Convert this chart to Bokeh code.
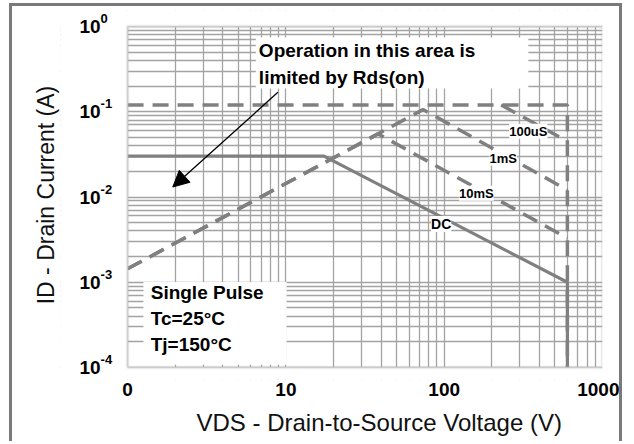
from bokeh.plotting import figure
from bokeh.models import (FixedTicker, CustomJSTickFormatter, BoxAnnotation, Label,
                          Arrow, NormalHead, Title)
from bokeh.embed import file_html
from bokeh.resources import INLINE

# ---- data ----
limit_v = [1, 600, 600]
limit_a = [0.12, 0.12, 1e-4]

us100_v = [229, 600]
us100_a = [0.12, 0.045]

ms1_v = [1, 73.5, 600]
ms1_a = [0.00144, 0.106, 0.0121]

ms10_v = [1, 38.2, 600]
ms10_a = [0.00144, 0.055, 0.0033]

dc_v = [1, 17.4, 600, 600]
dc_a = [0.0302, 0.0302, 0.001, 1e-4]

xtick_values = [1, 10, 100, 1000]
xtick_labels = ["0", "10", "100", "1000"]
ytick_values = [1e-4, 1e-3, 1e-2, 1e-1, 1]
ytick_bases = ["10", "10", "10", "10", "10"]
ytick_exps = ["-4", "-3", "-2", "-1", "0"]

curve_labels = ["100uS", "1mS", "10mS", "DC"]
curve_label_v = [340, 236, 159.5, 95.7]
curve_label_a = [0.059, 0.0286, 0.0111, 0.00483]

FONT = "Liberation Sans"
GRAY = "#808080"
GRID = "#a3a3a3"
EDGE = "#bdbdbd"

# visible chart area is 1..1000 V and 1e-4..1 A; the frame is a little larger so
# that the y tick labels (drawn as labels) are not clipped; the margin is blanked.
p = figure(width=613, height=438, x_axis_type="log", y_axis_type="log",
           x_range=(0.377, 1000), y_range=(7.24e-5, 1.54),
           output_backend="svg", toolbar_location=None,
           min_border_left=48, min_border_right=23, min_border_top=4, min_border_bottom=64,
           styles={"margin-left": "9px", "margin-top": "3px",
                   "border-left": "3px solid #7a7a7a", "border-top": "3px solid #7a7a7a",
                   "border-right": "3px solid #7a7a7a"})
p.background_fill_color = "white"
p.border_fill_color = "white"
p.outline_line_color = None

# ticks / grid
minor_x = [m * 10 ** e for e in range(0, 3) for m in range(2, 10)]
minor_y = [m * 10.0 ** e for e in range(-4, 0) for m in range(2, 10)]
xt = FixedTicker(ticks=xtick_values, minor_ticks=minor_x)
yt = FixedTicker(ticks=ytick_values, minor_ticks=minor_y)
p.xaxis.ticker = xt
p.yaxis.ticker = yt
p.xgrid.ticker = xt
p.ygrid.ticker = yt

fmt_code = """
for (let i = 0; i < vals.length; i++) {
  if (Math.abs(Math.log10(vals[i]) - Math.log10(tick)) < 1e-6) return labs[i];
}
return "";
"""
p.xaxis.formatter = CustomJSTickFormatter(args=dict(vals=xtick_values, labs=xtick_labels), code=fmt_code)
p.yaxis.formatter = CustomJSTickFormatter(code='return "";')

for g in (p.xgrid, p.ygrid):
    g.grid_line_color = GRID
    g.grid_line_width = 1.3
    g.minor_grid_line_color = GRID
    g.minor_grid_line_width = 1.3

for ax in (p.xaxis, p.yaxis):
    ax.axis_line_color = None
    ax.major_tick_line_color = None
    ax.minor_tick_line_color = None
    ax.major_tick_out = 0
    ax.major_tick_in = 0
    ax.minor_tick_out = 0
    ax.minor_tick_in = 0
    ax.major_label_text_font = FONT
    ax.major_label_text_font_style = "bold"
    ax.major_label_text_font_size = "19px"
    ax.major_label_text_color = "black"

p.xaxis.major_label_standoff = 3
p.yaxis.major_label_standoff = 0

p.add_layout(Title(text="VDS - Drain-to-Source Voltage (V)", align="left", offset=136,
                   text_font=FONT, text_font_style="normal", text_font_size="24px",
                   text_color="#111111", standoff=17), "below")
p.add_layout(Title(text="ID - Drain Current (A)", align="center",
                   text_font=FONT, text_font_style="normal", text_font_size="23px",
                   text_color="#111111", standoff=4), "left")

# blank the margin outside 1..1000 V / 1e-4..1 A and draw the chart border
p.add_layout(BoxAnnotation(right=1, fill_color="white", fill_alpha=1.0, line_color=None))
p.add_layout(BoxAnnotation(bottom=1, fill_color="white", fill_alpha=1.0, line_color=None))
p.add_layout(BoxAnnotation(top=1e-4, fill_color="white", fill_alpha=1.0, line_color=None))
p.add_layout(BoxAnnotation(left=1, right=1000, bottom=1e-4, top=1, fill_alpha=0,
                           line_color=EDGE, line_width=3.5))

# y tick labels: base "10" and raised exponent
for tv, b, e in zip(ytick_values, ytick_bases, ytick_exps):
    p.add_layout(Label(x=1, y=tv, x_offset=-27, text=b, text_align="right", text_baseline="middle",
                       text_font=FONT, text_font_style="bold", text_font_size="19px",
                       text_color="black"))
    p.add_layout(Label(x=1, y=tv, x_offset=-27, y_offset=8, text=e, text_align="left",
                       text_baseline="middle", text_font=FONT, text_font_style="bold",
                       text_font_size="13px", text_color="black"))

# curves
dash = "16 9"
p.line(limit_v, limit_a, line_color=GRAY, line_width=3.5, line_dash=dash)
p.line(us100_v, us100_a, line_color=GRAY, line_width=3.5, line_dash=dash)
p.line(ms1_v, ms1_a, line_color=GRAY, line_width=3.5, line_dash=dash)
p.line(ms10_v, ms10_a, line_color=GRAY, line_width=3.5, line_dash=dash)
p.line(dc_v, dc_a, line_color=GRAY, line_width=3.2)

# curve labels
for t, xv, yv in zip(curve_labels, curve_label_v, curve_label_a):
    p.add_layout(Label(x=xv, y=yv, text=t, text_align="center", text_baseline="middle",
                       text_font=FONT, text_font_style="bold",
                       text_font_size="14px" if t == "DC" else "13px", text_color="black",
                       background_fill_color="white", background_fill_alpha=1.0))

# annotation boxes
p.add_layout(BoxAnnotation(left=6.46, right=340, bottom=0.188, top=0.743,
                           fill_color="white", fill_alpha=1.0, line_color=None))
p.add_layout(BoxAnnotation(left=1.26, right=10.1, bottom=0.000108, top=0.00101,
                           fill_color="white", fill_alpha=1.0, line_color=None))

for t, yv in (("Operation in this area is", 0.524), ("limited by Rds(on)", 0.253)):
    p.add_layout(Label(x=6.75, y=yv, text=t, text_align="left", text_baseline="middle",
                       text_font=FONT, text_font_style="bold", text_font_size="19px",
                       text_color="black"))

for t, yv in (("Single Pulse", 0.000754), ("Tc=25\u00b0C", 0.000374), ("Tj=150\u00b0C", 0.000186)):
    p.add_layout(Label(x=1.40, y=yv, text=t, text_align="left", text_baseline="middle",
                       text_font=FONT, text_font_style="bold", text_font_size="19px",
                       text_color="black"))

p.add_layout(Arrow(x_start=8.9, y_start=0.169, x_end=1.93, y_end=0.0131,
                   line_color="black", line_width=1.3,
                   end=NormalHead(size=16, fill_color="black", line_color="black")))

open("out.html", "w").write(file_html(p, INLINE))
